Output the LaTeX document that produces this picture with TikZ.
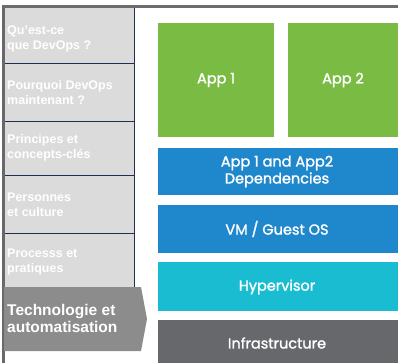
\documentclass[tikz,border=0pt]{standalone}
\usepackage{fontspec}
\setmainfont{Liberation Sans}
\newfontfamily\stackfont{Poppins}[FakeBold=1.6]
\definecolor{panelgray}{RGB}{219,219,219}
\definecolor{activegray}{RGB}{140,140,140}
\definecolor{railgray}{RGB}{105,105,108}
\definecolor{navyline}{RGB}{32,46,82}
\definecolor{appgreen}{RGB}{122,188,67}
\definecolor{depblue}{RGB}{31,136,204}
\definecolor{hypcyan}{RGB}{25,188,208}
\definecolor{infragray}{RGB}{102,104,108}
\begin{document}
\begin{tikzpicture}[x=1pt,y=-1pt,
  menutext/.style={anchor=west,text=white,font=\fontsize{12.5}{15.5}\selectfont\bfseries,align=left,inner sep=0pt},
  layertext/.style={text=white,font=\stackfont\fontsize{14.5}{17}\selectfont,align=center,inner sep=0pt}]
\useasboundingbox (0,0) rectangle (398,363);
% menu column
\fill[panelgray] (3,8) rectangle (134,287);
\foreach \y in {63,121,175,233,287}
  \draw[navyline,line width=0.8pt] (3,\y) -- (134,\y);
\draw[navyline,line width=0.9pt] (134,8) -- (134,287);
\fill[railgray] (2,6) rectangle (4.5,363);
\draw[gray!85!black,line width=2.5pt] (2,6.5) -- (398,6.5);
% current section tab
\fill[activegray] (4,287) -- (141,287) -- (147,319) -- (141,351) -- (4,351) -- cycle;
\node[menutext] (m1) at (7,39) {Qu'est-ce\\que DevOps ?};
\node[menutext] (m2) at (7,92.5) {Pourquoi DevOps\\maintenant ?};
\node[menutext] (m3) at (7,148) {Principes et\\concepts-clés};
\node[menutext] (m4) at (7,205) {Personnes\\et culture};
\node[menutext] (m5) at (7,262) {Processs et\\pratiques};
\node[menutext,font=\fontsize{15.5}{17}\selectfont\bfseries] (m6) at (7,318.5) {Technologie et\\automatisation};
% stack of layers
\fill[appgreen] (158,23) rectangle (274,137);
\fill[appgreen] (288,23) rectangle (398,137);
\fill[depblue] (158,148) rectangle (398,195);
\fill[depblue] (158,205) rectangle (398,253);
\fill[hypcyan] (158,262) rectangle (398,311);
\fill[infragray] (158,320) rectangle (398,363);
\node[layertext] (app1) at (216,80) {App 1};
\node[layertext] (app2) at (343,80) {App 2};
\node[layertext] (deps) at (277,171.5) {App 1 and App2\\Dependencies};
\node[layertext] (vm) at (277,229) {VM / Guest OS};
\node[layertext] (hyp) at (277,287) {Hypervisor};
\node[layertext] (infra) at (277,343) {Infrastructure};
\end{tikzpicture}
\end{document}
